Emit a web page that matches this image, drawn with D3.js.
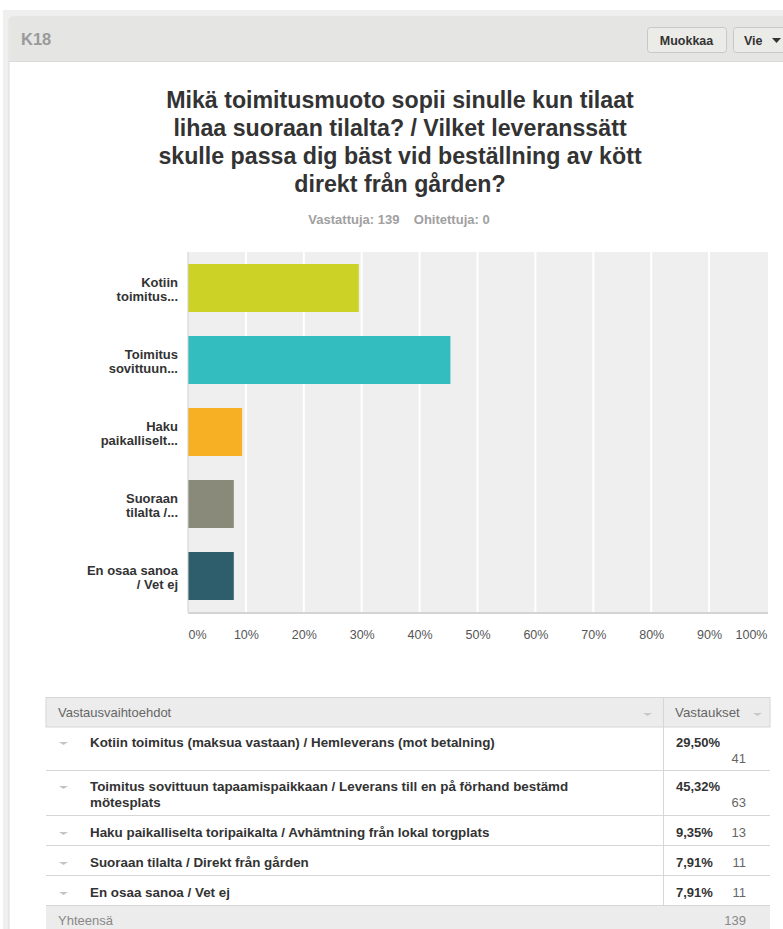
<!DOCTYPE html>
<html>
<head>
<meta charset="utf-8">
<script src="https://d3js.org/d3.v7.min.js"></script>
<style>
body { margin: 0; background: #fff; }
svg { display: block; font-family: "Liberation Sans", Arial, sans-serif; }
</style>
</head>
<body>
<div id="chart"></div>
<script>
// chart data
var shortLabels = [["Kotiin", "toimitus..."], ["Toimitus", "sovittuun..."], ["Haku", "paikalliselt..."], ["Suoraan", "tilalta /..."], ["En osaa sanoa", "/ Vet ej"]];
var fullLabels = [
	["Kotiin toimitus (maksua vastaan) / Hemleverans (mot betalning)"],
	["Toimitus sovittuun tapaamispaikkaan / Leverans till en på förhand bestämd", "mötesplats"],
	["Haku paikalliselta toripaikalta / Avhämtning från lokal torgplats"],
	["Suoraan tilalta / Direkt från gården"],
	["En osaa sanoa / Vet ej"]
];
var percents = [29.50, 45.32, 9.35, 7.91, 7.91];
var counts = [41, 63, 13, 11, 11];
var barColors = ["#cdd326", "#33bdbe", "#f7b023", "#8a8a7a", "#2e5e6b"];
var tickValues = [0, 10, 20, 30, 40, 50, 60, 70, 80, 90, 100];
var titleLines = ["Mikä toimitusmuoto sopii sinulle kun tilaat", "lihaa suoraan tilalta? / Vilket leveranssätt", "skulle passa dig bäst vid beställning av kött", "direkt från gården?"];
var answered = 139, skipped = 0, total = 139;

var w = 783, h = 929;

var svg = d3.select("#chart")
	.append("svg")
	.attr("width", w)
	.attr("height", h);

// page frame
svg.append("rect").attr("x", 3).attr("y", 10).attr("width", w).attr("height", h).attr("fill", "#efefef");
svg.append("rect").attr("x", 9).attr("y", 17).attr("width", w).attr("height", h).attr("rx", 4)
	.attr("fill", "#fff").attr("stroke", "#dcdcdc");
svg.append("path")
	.attr("d", "M9.5,61 V21 a4,4 0 0 1 4,-4 H" + w + " V61 Z")
	.attr("fill", "#e5e5e3");
svg.append("line").attr("x1", 9).attr("x2", w).attr("y1", 61.5).attr("y2", 61.5).attr("stroke", "#dadada");

svg.append("text").attr("x", 21).attr("y", 45).text("K18")
	.attr("font-size", 16.5).attr("font-weight", "bold").attr("fill", "#9a9a9a");

// buttons
var buttons = [{label: "Muokkaa", x: 647, w: 79}, {label: "Vie", x: 733, w: 60}];
buttons.forEach(function(b) {
	svg.append("rect").attr("x", b.x + 0.5).attr("y", 27.5).attr("width", b.w).attr("height", 25).attr("rx", 3)
		.attr("fill", "#ebebe8").attr("stroke", "#c8c8c4");
	svg.append("text").attr("x", b.label == "Vie" ? b.x + 11 : b.x + b.w / 2).attr("y", 44.5)
		.attr("text-anchor", b.label == "Vie" ? "start" : "middle")
		.attr("font-size", 12.5).attr("font-weight", "bold").attr("fill", "#333").text(b.label);
});
svg.append("path").attr("d", "M772,38 h9 l-4.5,5 Z").attr("fill", "#333");

// title
svg.append("g")
	.selectAll("text")
	.data(titleLines)
	.enter()
	.append("text")
	.attr("x", 400)
	.attr("y", (d, i) => 108 + i * 28)
	.attr("text-anchor", "middle")
	.attr("font-size", 23.2)
	.attr("font-weight", "bold")
	.attr("fill", "#333")
	.text(d => d);

svg.append("text").attr("x", 399).attr("y", 224).attr("text-anchor", "middle")
	.attr("font-size", 13).attr("font-weight", "bold").attr("fill", "#a0a0a0")
	.attr("xml:space", "preserve")
	.text("Vastattuja: " + answered + "    Ohitettuja: " + skipped);

// bar chart
var plot = {left: 188, right: 767, top: 252, bottom: 612};

var xScale = d3.scaleLinear().domain([0, 100]).range([plot.left, plot.right]);
var yScale = d3.scaleBand().domain(d3.range(percents.length)).range([plot.top, plot.bottom]).paddingInner(1 / 3).paddingOuter(1 / 6);

svg.append("rect").attr("x", plot.left).attr("y", plot.top)
	.attr("width", plot.right - plot.left + 1).attr("height", plot.bottom - plot.top)
	.attr("fill", "#efefef");

svg.append("g")
	.selectAll("line.grid")
	.data(tickValues.slice(1, -1))
	.enter()
	.append("line")
	.attr("class", "grid")
	.attr("x1", d => xScale(d)).attr("x2", d => xScale(d))
	.attr("y1", plot.top).attr("y2", plot.bottom)
	.attr("stroke", "#fff").attr("stroke-width", 2);

svg.append("g")
	.selectAll("rect.bar")
	.data(percents)
	.enter()
	.append("rect")
	.attr("class", "bar")
	.attr("x", xScale(0))
	.attr("y", (d, i) => yScale(i))
	.attr("width", d => xScale(d) - xScale(0))
	.attr("height", yScale.bandwidth())
	.attr("fill", (d, i) => barColors[i]);

svg.append("line").attr("x1", plot.left).attr("x2", plot.right + 1).attr("y1", plot.bottom + 1).attr("y2", plot.bottom + 1)
	.attr("stroke", "#d4d4d4").attr("stroke-width", 2);
svg.append("line").attr("x1", plot.left).attr("x2", plot.left).attr("y1", plot.top).attr("y2", plot.bottom)
	.attr("stroke", "#cfcfcf").attr("stroke-width", 1);

// y labels
var yLab = svg.append("g")
	.selectAll("text")
	.data(shortLabels)
	.enter()
	.append("text")
	.attr("text-anchor", "end")
	.attr("font-size", 13)
	.attr("font-weight", "bold")
	.attr("fill", "#333");
yLab.selectAll("tspan")
	.data((d, i) => d.map(t => ({t: t, i: i})))
	.enter()
	.append("tspan")
	.attr("x", 178)
	.attr("y", (d, j) => yScale(d.i) + yScale.bandwidth() / 2 - 1 + j * 14)
	.text(d => d.t);

// x tick labels
var xAxis = d3.axisBottom(xScale)
	.tickValues(tickValues)
	.tickSize(0)
	.tickPadding(18)
	.tickFormat(d => d + "%");

svg.append("g")
	.attr("class", "xAxis")
	.attr("transform", "translate(0," + plot.bottom + ")")
	.call(xAxis)
	.call(g => g.select(".domain").remove())
	.selectAll("text")
	.attr("font-family", "Liberation Sans, Arial, sans-serif")
	.attr("font-size", 12.5)
	.attr("fill", "#555")
	.attr("text-anchor", (d, i) => i == 0 ? "start" : (i == tickValues.length - 1 ? "end" : "middle"));

// table
var tab = {left: 46, right: 770, divider: 663};
var rowTops = [727, 771, 816, 846, 876, 906];

svg.append("rect").attr("x", tab.left).attr("y", 697.5).attr("width", tab.right - tab.left).attr("height", 29.5)
	.attr("fill", "#ececec").attr("stroke", "#d6d6d6");
svg.append("text").attr("x", 58).attr("y", 717).text("Vastausvaihtoehdot")
	.attr("font-size", 13).attr("fill", "#666");
svg.append("text").attr("x", 675).attr("y", 717).text("Vastaukset")
	.attr("font-size", 13.3).attr("fill", "#666");
[[643, 713], [753, 713]].forEach(function(p) {
	svg.append("path").attr("d", "M" + p[0] + "," + p[1] + " h9 l-4.5,3 Z").attr("fill", "#c8c8c8");
});

svg.append("rect").attr("x", tab.left).attr("y", rowTops[5]).attr("width", tab.right - tab.left).attr("height", h - rowTops[5])
	.attr("fill", "#ececec");
svg.append("text").attr("x", 58).attr("y", 925).text("Yhteensä").attr("font-size", 13).attr("fill", "#888");
svg.append("text").attr("x", 746).attr("y", 925).attr("text-anchor", "end").text(total).attr("font-size", 13).attr("fill", "#888");

svg.append("line").attr("x1", tab.divider + 0.5).attr("x2", tab.divider + 0.5).attr("y1", 698).attr("y2", rowTops[5])
	.attr("stroke", "#d6d6d6");

var rows = svg.append("g")
	.selectAll("g.row")
	.data(percents)
	.enter()
	.append("g")
	.attr("class", "row")
	.attr("transform", (d, i) => "translate(0," + rowTops[i] + ")");

rows.append("line")
	.attr("x1", tab.left).attr("x2", tab.right)
	.attr("y1", (d, i) => rowTops[i + 1] - rowTops[i] - 0.5)
	.attr("y2", (d, i) => rowTops[i + 1] - rowTops[i] - 0.5)
	.attr("stroke", "#d6d6d6");

rows.append("path")
	.attr("d", (d, i) => "M59," + (i < 2 ? 15 : 16) + " h9 l-4.5,3 Z")
	.attr("fill", "#c4c4c4");

rows.append("text")
	.attr("font-size", 13.4)
	.attr("font-weight", "bold")
	.attr("fill", "#333")
	.selectAll("tspan")
	.data((d, i) => fullLabels[i].map(t => ({t: t, i: i})))
	.enter()
	.append("tspan")
	.attr("x", 90)
	.attr("y", (d, j) => (d.i < 2 ? 20 : 21) + j * 16)
	.text(d => d.t);

rows.append("text")
	.attr("x", 676).attr("y", (d, i) => i < 2 ? 20 : 21)
	.attr("font-size", 13).attr("font-weight", "bold").attr("fill", "#333")
	.text(d => d.toFixed(2).replace(".", ",") + "%");

rows.append("text")
	.attr("x", 746)
	.attr("text-anchor", "end")
	.attr("y", (d, i) => i < 2 ? 36 : 21)
	.attr("font-size", 13).attr("fill", "#666")
	.text((d, i) => counts[i]);
</script>
</body>
</html>
